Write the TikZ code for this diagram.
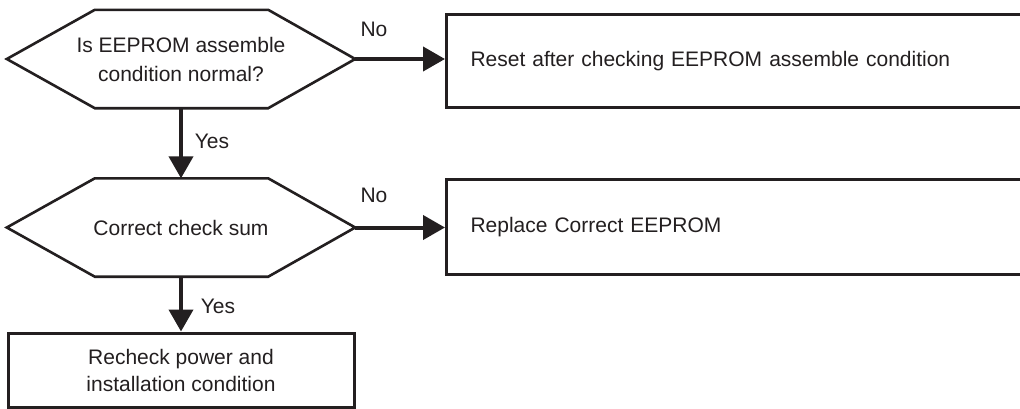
\documentclass[tikz,border=0pt]{standalone}
\usepackage{fontspec}
\setmainfont{Liberation Sans}
\usetikzlibrary{arrows.meta,calc}
\definecolor{ink}{HTML}{231F20}
\begin{document}
\begin{tikzpicture}[x=1pt,y=-1pt,
  font=\fontsize{21}{29}\selectfont,
  hexnode/.style={minimum width=348pt, minimum height=98pt, inner sep=0pt, align=center, text=ink},
  hexline/.style={draw=ink, line width=2.6pt, line join=miter},
  boxnode/.style={draw=ink, line width=3pt, inner xsep=24pt, inner ysep=0pt, align=left, text=ink, anchor=north west},
  endbox/.style={draw=ink, line width=3pt, inner sep=0pt, align=center, text=ink, font=\fontsize{21}{27}\selectfont},
  arr/.style={draw=ink, line width=4pt, -{Triangle[length=22pt,width=24pt]}},
  lbl/.style={text=ink, inner sep=0pt}]
\clip (0,0) rectangle (1020,408);
\fill[white] (0,0) rectangle (1020,408);
% decisions
\node[hexnode] (d1) at (181,59) {Is EEPROM assemble\\condition normal?};
\draw[hexline] (d1.west) -- ($(d1.north west)+(88,0)$) -- ($(d1.north east)+(-87,0)$) -- (d1.east)
  -- ($(d1.south east)+(-87,0)$) -- ($(d1.south west)+(88,0)$) -- cycle;
\node[hexnode] (d2) at (181,227.5) {Correct check sum};
\draw[hexline] (d2.west) -- ($(d2.north west)+(88,0)$) -- ($(d2.north east)+(-87,0)$) -- (d2.east)
  -- ($(d2.south east)+(-87,0)$) -- ($(d2.south west)+(88,0)$) -- cycle;
% boxes
\node[boxnode, text width=547pt, minimum height=93pt] (b1) at (445,13) {Reset after checking EEPROM assemble condition};
\node[boxnode, text width=547pt, minimum height=95pt] (b2) at (445,178) {Replace Correct EEPROM};
\node[endbox, minimum width=346pt, minimum height=74pt] (b3) at (181,370) {Recheck power and\\installation condition};
% connectors
\draw[arr] (d1.east) -- (d1.east -| b1.west);
\draw[arr] (d2.east) -- (d2.east -| b2.west);
\draw[arr] (d1.south) -- (d2.north);
\draw[arr] (d2.south) -- (b3.north);
% labels
\node[lbl] (no1) at (374,29) {No};
\node[lbl] (yes1) at (212,141) {Yes};
\node[lbl] (no2) at (374,195) {No};
\node[lbl] (yes2) at (218,306) {Yes};
\end{tikzpicture}
\end{document}
